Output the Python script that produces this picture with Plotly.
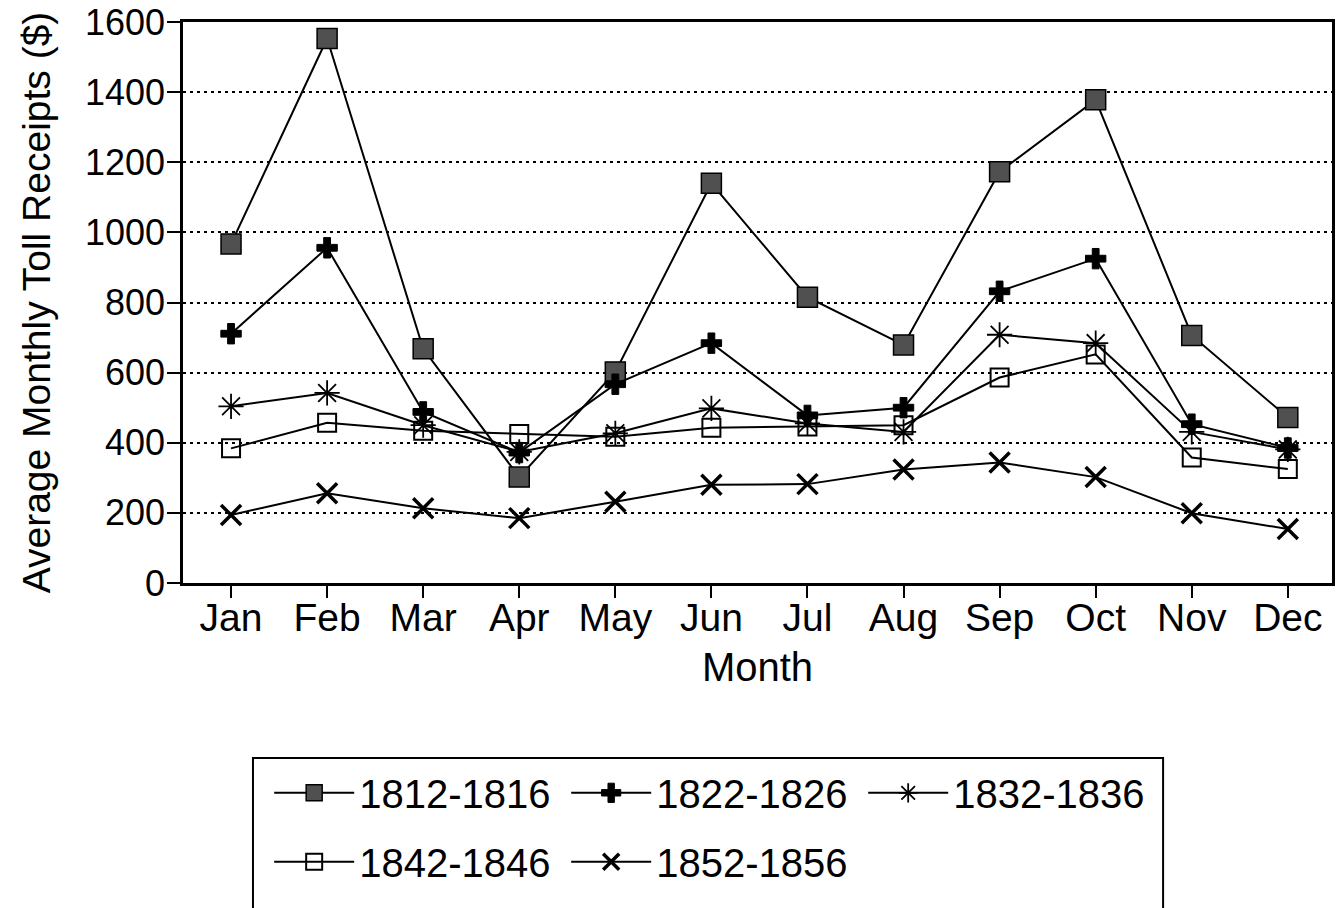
import plotly.graph_objects as go

months = ["Jan", "Feb", "Mar", "Apr", "May", "Jun", "Jul", "Aug", "Sep", "Oct", "Nov", "Dec"]
s1812 = [967, 1553, 668, 302, 602, 1140, 815, 679, 1173, 1378, 706, 472]
s1822 = [711, 956, 488, 372, 567, 684, 478, 500, 832, 925, 453, 385]
s1832 = [504, 542, 450, 374, 427, 498, 455, 431, 708, 684, 431, 381]
s1842 = [384, 457, 434, 425, 417, 443, 446, 450, 586, 652, 358, 325]
s1852 = [194, 256, 213, 185, 232, 280, 282, 324, 344, 302, 199, 154]
names = ["1812-1816", "1822-1826", "1832-1836", "1842-1846", "1852-1856"]
yticks = [0, 200, 400, 600, 800, 1000, 1200, 1400, 1600]

FONT = "Liberation Sans, Arial, sans-serif"
series = [s1812, s1822, s1832, s1842, s1852]
legend_rows = ["legend", "legend", "legend", "legend2", "legend2"]
markers = [
    dict(symbol="square", size=20, color="#505050", line=dict(color="black", width=1.5)),
    dict(symbol="cross", size=17, color="black", line=dict(color="black", width=1)),
    dict(symbol="asterisk-open", size=21, color="black", line=dict(color="black", width=1.8)),
    dict(symbol="square-open", size=18, color="black", line=dict(color="black", width=2)),
    dict(symbol="x-thin-open", size=20, color="black", line=dict(color="black", width=3.5)),
]

fig = go.Figure()
for nm, ys, mk, lg in zip(names, series, markers, legend_rows):
    fig.add_trace(go.Scatter(
        x=months, y=ys, name=nm, mode="lines+markers",
        line=dict(color="black", width=2), marker=mk, legend=lg,
    ))

# legend frame (extends beyond bottom edge as in reference)
fig.add_shape(type="rect", xref="paper", yref="paper",
              x0=0.0609, x1=0.853, y0=-0.62, y1=-0.312,
              line=dict(color="black", width=2), fillcolor="rgba(0,0,0,0)")

leg_common = dict(
    orientation="h", xanchor="left", yanchor="middle",
    font=dict(family=FONT, size=40, color="black"),
    entrywidth=202, entrywidthmode="pixels", itemwidth=80,
    bgcolor="rgba(0,0,0,0)", borderwidth=0,
)

fig.update_layout(
    width=1338, height=908,
    margin=dict(l=183, r=6, t=22, b=325),
    paper_bgcolor="white", plot_bgcolor="white",
    font=dict(family=FONT, color="black", size=36),
    showlegend=True,
    legend=dict(x=0.075, y=-0.374, **leg_common),
    legend2=dict(x=0.075, y=-0.497, **leg_common),
)
fig.update_xaxes(
    range=[-0.5, 11.46], tickmode="array", tickvals=months, ticktext=months,
    showline=True, mirror=True, linecolor="black", linewidth=2.5,
    ticks="outside", ticklen=12, tickwidth=2, tickcolor="black",
    tickfont=dict(size=39), ticklabelstandoff=-14,
    showgrid=False, zeroline=False, automargin=False,
    title=dict(text="Month", font=dict(size=40), standoff=16),
)
fig.update_yaxes(
    range=[0, 1600], tickmode="array", tickvals=yticks,
    showline=True, mirror=True, linecolor="black", linewidth=2.5,
    ticks="outside", ticklen=13, tickwidth=2, tickcolor="black",
    tickfont=dict(size=36), ticklabelstandoff=-5,
    showgrid=True, gridcolor="black", gridwidth=2,
    griddash="3px,4px", zeroline=False, automargin=False,
    title=dict(text="Average Monthly Toll Receipts ($)", font=dict(size=39), standoff=23),
)
fig.write_html("out.html", config={"displayModeBar": False},
               post_script="document.body.style.margin='0';")
